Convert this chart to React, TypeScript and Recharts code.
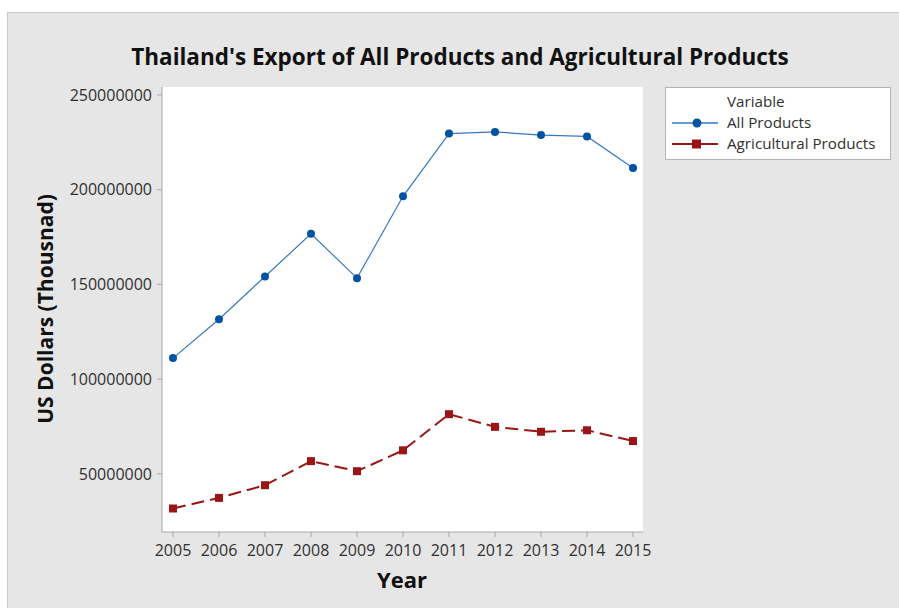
import React from 'react';
import { LineChart, Line, XAxis, YAxis, CartesianGrid } from 'recharts';

const years = ['2005', '2006', '2007', '2008', '2009', '2010', '2011', '2012', '2013', '2014', '2015'];
const allProducts = [111100000, 131600000, 154200000, 176700000, 153300000, 196500000, 229600000, 230500000, 228800000, 228100000, 211400000];
const agriProducts = [31700000, 37300000, 44000000, 56700000, 51400000, 62400000, 81500000, 74800000, 72200000, 73000000, 67300000];
const yTicks = [50000000, 100000000, 150000000, 200000000, 250000000];

const data = years.map((year, i) => ({
  year,
  all: allProducts[i],
  agri: agriProducts[i],
}));

const BLUE_LINE = '#3a78c2';
const BLUE_DOT = '#0052a3';
const RED = '#9a1616';
const AXIS = '#a6a6a6';
const TEXT = '#303030';
const FONT = '"Open Sans", "Noto Sans", sans-serif';

const SquareDot = (props: any) => {
  const { cx, cy, index } = props;
  return <rect key={'sq' + index} x={cx - 4} y={cy - 4} width={8} height={8} fill={RED} />;
};

// legend drawn as plain html next to the plot, like the minitab one
const LegendBox = () => (
  <div
    style={{
      position: 'absolute',
      left: 665,
      top: 87,
      width: 226,
      height: 73,
      boxSizing: 'border-box',
      border: '1px solid #b4b4b4',
      background: '#fff',
      fontFamily: FONT,
      fontSize: 15.2,
      color: TEXT,
    }}
  >
    <div style={{ position: 'absolute', left: 61, top: 3 }}>Variable</div>
    <svg style={{ position: 'absolute', left: 6, top: 28 }} width={48} height={14}>
      <line x1={0} y1={7} x2={46} y2={7} stroke={BLUE_LINE} strokeWidth={1.5} />
      <circle cx={25} cy={7} r={4.5} fill={BLUE_DOT} />
    </svg>
    <div style={{ position: 'absolute', left: 61, top: 24 }}>All Products</div>
    <svg style={{ position: 'absolute', left: 6, top: 49 }} width={48} height={14}>
      <line x1={0} y1={7} x2={46} y2={7} stroke={RED} strokeWidth={2} />
      <rect x={20} y={2.5} width={9} height={9} fill={RED} />
    </svg>
    <div style={{ position: 'absolute', left: 61, top: 45 }}>Agricultural Products</div>
  </div>
);

const labelStyle: React.CSSProperties = {
  position: 'absolute',
  fontFamily: FONT,
  fontWeight: 700,
  color: '#111',
  whiteSpace: 'nowrap',
};

export default function App() {
  return (
    <div style={{ position: 'absolute', left: 0, top: 0, width: 899, height: 608, background: '#fff' }}>
      <div
        style={{
          position: 'absolute',
          left: 7,
          top: 12,
          width: 892,
          height: 596,
          background: '#e6e6e6',
          borderTop: '1px solid #c8c8c8',
          borderLeft: '1px solid #c8c8c8',
          boxSizing: 'border-box',
        }}
      />
      <div style={{ ...labelStyle, left: 460, top: 56, transform: 'translate(-50%, -50%)', fontSize: 22.5 }}>
        Thailand's Export of All Products and Agricultural Products
      </div>
      <div style={{ ...labelStyle, left: 45, top: 309, transform: 'translate(-50%, -50%) rotate(-90deg)', fontSize: 21 }}>
        US Dollars (Thousnad)
      </div>
      <div style={{ ...labelStyle, left: 402, top: 579, transform: 'translate(-50%, -50%)', fontSize: 22 }}>
        Year
      </div>
      <LegendBox />
      <div style={{ position: 'absolute', left: 0, top: 0 }}>
        <LineChart width={899} height={608} data={data} margin={{ top: 87, right: 256, bottom: 46, left: 62 }}>
          <CartesianGrid fill="#fff" horizontal={false} vertical={false} />
          <XAxis
            dataKey="year"
            padding={{ left: 11, right: 10 }}
            tickSize={5}
            tickMargin={8}
            height={30}
            stroke={AXIS}
            tick={{ fill: TEXT, fontSize: 16, fontFamily: FONT }}
            interval={0}
          />
          <XAxis xAxisId="top" dataKey="year" orientation="top" height={0} tick={false} tickLine={false} stroke={AXIS} />
          <YAxis
            domain={[19300000, 254200000]}
            ticks={yTicks}
            allowDataOverflow
            width={100}
            tickSize={5}
            tickMargin={5}
            stroke={AXIS}
            tick={{ fill: TEXT, fontSize: 16, fontFamily: FONT }}
            tickFormatter={(v: number) => String(v)}
          />
          <YAxis yAxisId="right" orientation="right" width={0} tick={false} tickLine={false} stroke={AXIS} />
          <Line
            dataKey="all"
            name="All Products"
            stroke={BLUE_LINE}
            strokeWidth={1.2}
            dot={{ r: 4, fill: BLUE_DOT, stroke: 'none' }}
            activeDot={false}
            isAnimationActive={false}
          />
          <Line
            dataKey="agri"
            name="Agricultural Products"
            stroke={RED}
            strokeWidth={2}
            strokeDasharray="13 6"
            dot={SquareDot}
            activeDot={false}
            isAnimationActive={false}
          />
        </LineChart>
      </div>
    </div>
  );
}
